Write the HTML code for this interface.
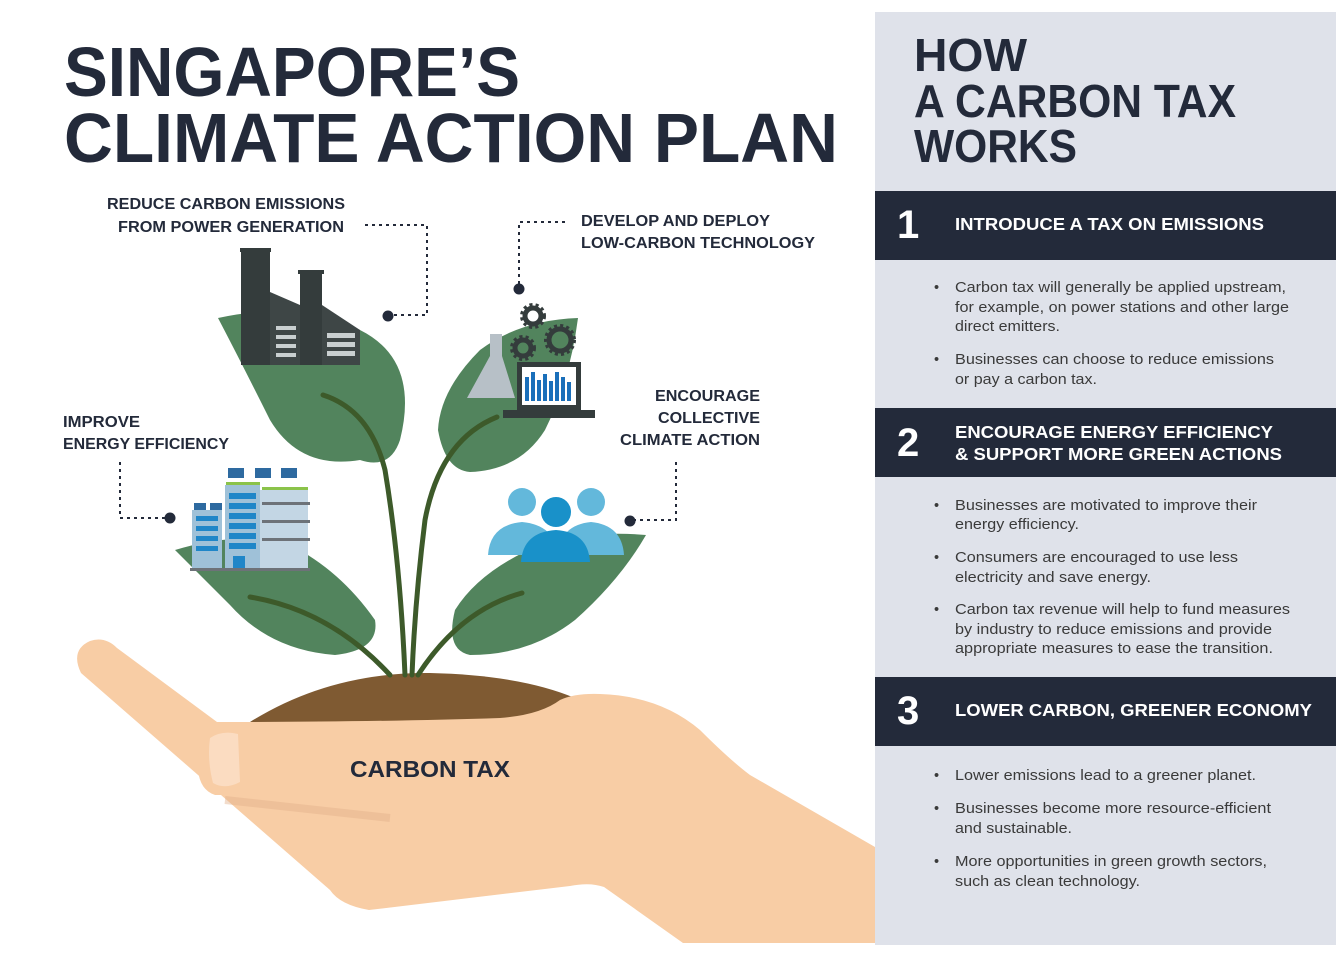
<!DOCTYPE html>
<html><head><meta charset="utf-8"><style>
html,body{margin:0;padding:0;background:#fff;}
svg{display:block;font-family:"Liberation Sans",sans-serif;}
</style></head><body>
<svg width="1336" height="960" viewBox="0 0 1336 960" xmlns="http://www.w3.org/2000/svg">
<rect width="1336" height="960" fill="#fff"/>
<!-- title -->
<g fill="#232a3a" font-weight="bold">
<text x="64" y="96" font-size="70" textLength="456" lengthAdjust="spacingAndGlyphs">SINGAPORE’S</text>
<text x="64" y="162" font-size="70" textLength="774" lengthAdjust="spacingAndGlyphs">CLIMATE ACTION PLAN</text>
</g>
<!-- labels -->
<g fill="#232a3a" font-weight="bold" font-size="15.5">
<text x="107" y="209" textLength="238" lengthAdjust="spacingAndGlyphs">REDUCE CARBON EMISSIONS</text>
<text x="118" y="232" textLength="226" lengthAdjust="spacingAndGlyphs">FROM POWER GENERATION</text>
<text x="581" y="226" textLength="189" lengthAdjust="spacingAndGlyphs">DEVELOP AND DEPLOY</text>
<text x="581" y="248" textLength="234" lengthAdjust="spacingAndGlyphs">LOW-CARBON TECHNOLOGY</text>
<text x="63" y="427" textLength="77" lengthAdjust="spacingAndGlyphs">IMPROVE</text>
<text x="63" y="449" textLength="166" lengthAdjust="spacingAndGlyphs">ENERGY EFFICIENCY</text>
<text x="655" y="401" textLength="105" lengthAdjust="spacingAndGlyphs">ENCOURAGE</text>
<text x="658" y="423" textLength="102" lengthAdjust="spacingAndGlyphs">COLLECTIVE</text>
<text x="620" y="445" textLength="140" lengthAdjust="spacingAndGlyphs">CLIMATE ACTION</text>
</g>
<!-- dotted connectors -->
<g stroke="#232a3a" stroke-width="2" stroke-dasharray="3,4" fill="none">
<path d="M365 225 H427 V315 H392"/>
<path d="M565 222 H519 V286"/>
<path d="M120 462 V518 H166"/>
<path d="M676 462 V520 H634"/>
</g>
<g fill="#232a3a">
<circle cx="388" cy="316" r="5.5"/><circle cx="519" cy="289" r="5.5"/>
<circle cx="170" cy="518" r="5.5"/><circle cx="630" cy="521" r="5.5"/>
</g>
<!-- hand -->
<path d="M250 722 Q330 672 430 673 Q520 675 575 698 L560 730 L250 730 Z" fill="#7f5a32"/>
<path d="M81 673 Q70 650 90 641 Q105 636 117 648 L217 722 Q380 722 500 718 Q540 715 560 700 Q575 693 600 694 Q660 696 700 730 Q730 760 750 775 L875 847 L875 943 L683 943 L604 887 Q590 882 570 886 L369 910 Q340 905 330 890 Z" fill="#f8cda5"/>
<path d="M200 735 Q205 722 230 722 L240 722 L240 795 L215 795 Q200 790 198 770 Z" fill="#f8cda5"/>
<path d="M210 738 Q222 730 238 734 L240 782 Q225 790 213 783 Q207 760 210 738 Z" fill="#fbdcc1"/>
<path d="M225 800 Q300 808 390 818" stroke="#e2b28c" stroke-width="8" fill="none" opacity="0.45"/>
<text x="350" y="777" font-size="23" font-weight="bold" fill="#232a3a" textLength="160" lengthAdjust="spacingAndGlyphs">CARBON TAX</text>
<!-- leaves -->
<g fill="#52845d">
<path d="M218 318 Q300 300 360 330 Q420 360 400 440 Q390 470 360 460 Q300 470 270 420 Q240 360 218 318 Z"/>
<path d="M578 318 Q520 320 480 350 Q440 390 438 430 Q445 470 470 472 Q520 470 545 430 Q570 380 578 318 Z"/>
<path d="M175 550 Q240 530 290 545 Q340 570 375 620 Q380 650 335 655 Q270 650 230 605 Q200 575 175 550 Z"/>
<path d="M646 535 Q590 530 540 545 Q480 570 455 610 Q445 650 470 655 Q530 655 575 620 Q620 580 646 535 Z"/>
</g>
<g stroke="#3d5a2a" stroke-width="5" fill="none" stroke-linecap="round">
<path d="M323 395 Q370 410 385 470 Q400 560 405 675"/>
<path d="M497 417 Q440 440 425 520 Q415 600 412 675"/>
<path d="M250 597 Q330 610 390 675"/>
<path d="M522 593 Q460 610 418 675"/>
</g>
<!-- factory -->
<g fill="#343c3c">
<rect x="241" y="250" width="29" height="115"/><rect x="240" y="248" width="31" height="4"/>
<rect x="300" y="272" width="22" height="93"/><rect x="298" y="270" width="26" height="4"/>
<path d="M270 292 L300 305 V365 H270 Z" fill="#3e4646"/>
<path d="M322 305 L360 330 V365 H322 Z" fill="#3e4646"/>
</g>
<g fill="#c9cfd0"><rect x="276" y="326" width="20" height="4"/><rect x="276" y="335" width="20" height="4"/><rect x="276" y="344" width="20" height="4"/><rect x="276" y="353" width="20" height="4"/>
<rect x="327" y="333" width="28" height="5"/><rect x="327" y="342" width="28" height="5"/><rect x="327" y="351" width="28" height="5"/></g>
<!-- tech -->
<path d="M490 334 H502 V356 L515 398 H467 L490 356 Z" fill="#b7c0c7"/>
<g fill="none" stroke="#343c3c">
<circle cx="533" cy="316" r="8" stroke-width="5"/><circle cx="533" cy="316" r="11" stroke-width="4" stroke-dasharray="3,3"/>
<circle cx="523" cy="348" r="8" stroke-width="5"/><circle cx="523" cy="348" r="11" stroke-width="4" stroke-dasharray="3,3"/>
<circle cx="560" cy="340" r="11" stroke-width="5"/><circle cx="560" cy="340" r="14" stroke-width="4" stroke-dasharray="3,3"/>
</g>
<rect x="517" y="362" width="64" height="50" fill="#343c3c"/><rect x="522" y="367" width="54" height="38" fill="#fff"/>
<g fill="#1a6fba"><rect x="525" y="377" width="4" height="24"/><rect x="531" y="372" width="4" height="29"/><rect x="537" y="380" width="4" height="21"/><rect x="543" y="374" width="4" height="27"/><rect x="549" y="381" width="4" height="20"/><rect x="555" y="372" width="4" height="29"/><rect x="561" y="377" width="4" height="24"/><rect x="567" y="382" width="4" height="19"/></g>
<rect x="503" y="410" width="92" height="8" fill="#343c3c"/>
<!-- building -->
<g fill="#9fc1d8"><rect x="192" y="510" width="30" height="60"/><rect x="225" y="485" width="35" height="85"/><rect x="260" y="490" width="48" height="80" fill="#c3d6e4"/></g>
<g fill="#1f86c8"><rect x="196" y="516" width="22" height="5"/><rect x="196" y="526" width="22" height="5"/><rect x="196" y="536" width="22" height="5"/><rect x="196" y="546" width="22" height="5"/>
<rect x="229" y="493" width="27" height="6"/><rect x="229" y="503" width="27" height="6"/><rect x="229" y="513" width="27" height="6"/><rect x="229" y="523" width="27" height="6"/><rect x="229" y="533" width="27" height="6"/><rect x="229" y="543" width="27" height="6"/><rect x="233" y="556" width="12" height="14"/></g>
<g fill="#2e6aa0"><rect x="228" y="468" width="16" height="10"/><rect x="255" y="468" width="16" height="10"/><rect x="281" y="468" width="16" height="10"/><rect x="194" y="503" width="12" height="7"/><rect x="210" y="503" width="12" height="7"/></g>
<g fill="#8bc34a"><rect x="226" y="482" width="34" height="3"/><rect x="262" y="487" width="46" height="3"/></g>
<g fill="#6d7278"><rect x="262" y="502" width="48" height="3"/><rect x="262" y="520" width="48" height="3"/><rect x="262" y="538" width="48" height="3"/><rect x="190" y="568" width="120" height="3"/></g>
<!-- people -->
<g fill="#63b8db">
<circle cx="522" cy="502" r="14"/><path d="M488 555 Q490 525 522 522 Q555 525 558 555 Z"/>
<circle cx="591" cy="502" r="14"/><path d="M558 555 Q560 525 591 522 Q622 525 624 555 Z"/>
</g>
<g fill="#1991c9"><circle cx="556" cy="512" r="15"/><path d="M521 562 Q523 532 556 530 Q588 532 590 562 Z"/></g>
<!-- right panel -->
<rect x="875" y="12" width="461" height="933" fill="#dfe2ea"/>
<g fill="#232a3a" font-weight="bold" font-size="46">
<text x="914" y="71" textLength="113" lengthAdjust="spacingAndGlyphs">HOW</text>
<text x="914" y="117" textLength="322" lengthAdjust="spacingAndGlyphs">A CARBON TAX</text>
<text x="914" y="162" textLength="163" lengthAdjust="spacingAndGlyphs">WORKS</text>
</g>
<g fill="#232a3a"><rect x="875" y="191" width="461" height="69"/><rect x="875" y="408" width="461" height="69"/><rect x="875" y="677" width="461" height="69"/></g>
<g fill="#fff" font-weight="bold">
<text x="897" y="238" font-size="40">1</text>
<text x="897" y="456" font-size="40">2</text>
<text x="897" y="724" font-size="40">3</text>
<g font-size="17.5">
<text x="955" y="230" textLength="309" lengthAdjust="spacingAndGlyphs">INTRODUCE A TAX ON EMISSIONS</text>
<text x="955" y="438" textLength="318" lengthAdjust="spacingAndGlyphs">ENCOURAGE ENERGY EFFICIENCY</text>
<text x="955" y="460" textLength="327" lengthAdjust="spacingAndGlyphs">&amp; SUPPORT MORE GREEN ACTIONS</text>
<text x="955" y="716" textLength="357" lengthAdjust="spacingAndGlyphs">LOWER CARBON, GREENER ECONOMY</text>
</g></g>
<g fill="#3a3a3a" font-size="14.5">
<text x="934" y="292">•</text><text x="955" y="292" textLength="331" lengthAdjust="spacingAndGlyphs">Carbon tax will generally be applied upstream,</text>
<text x="955" y="312" textLength="334" lengthAdjust="spacingAndGlyphs">for example, on power stations and other large</text>
<text x="955" y="331" textLength="105" lengthAdjust="spacingAndGlyphs">direct emitters.</text>
<text x="934" y="364">•</text><text x="955" y="364" textLength="319" lengthAdjust="spacingAndGlyphs">Businesses can choose to reduce emissions</text>
<text x="955" y="384" textLength="142" lengthAdjust="spacingAndGlyphs">or pay a carbon tax.</text>
<text x="934" y="510">•</text><text x="955" y="510" textLength="302" lengthAdjust="spacingAndGlyphs">Businesses are motivated to improve their</text>
<text x="955" y="529" textLength="124" lengthAdjust="spacingAndGlyphs">energy efficiency.</text>
<text x="934" y="562">•</text><text x="955" y="562" textLength="283" lengthAdjust="spacingAndGlyphs">Consumers are encouraged to use less</text>
<text x="955" y="582" textLength="196" lengthAdjust="spacingAndGlyphs">electricity and save energy.</text>
<text x="934" y="614">•</text><text x="955" y="614" textLength="335" lengthAdjust="spacingAndGlyphs">Carbon tax revenue will help to fund measures</text>
<text x="955" y="634" textLength="317" lengthAdjust="spacingAndGlyphs">by industry to reduce emissions and provide</text>
<text x="955" y="653" textLength="318" lengthAdjust="spacingAndGlyphs">appropriate measures to ease the transition.</text>
<text x="934" y="780">•</text><text x="955" y="780" textLength="301" lengthAdjust="spacingAndGlyphs">Lower emissions lead to a greener planet.</text>
<text x="934" y="813">•</text><text x="955" y="813" textLength="316" lengthAdjust="spacingAndGlyphs">Businesses become more resource-efficient</text>
<text x="955" y="833" textLength="117" lengthAdjust="spacingAndGlyphs">and sustainable.</text>
<text x="934" y="866">•</text><text x="955" y="866" textLength="312" lengthAdjust="spacingAndGlyphs">More opportunities in green growth sectors,</text>
<text x="955" y="886" textLength="185" lengthAdjust="spacingAndGlyphs">such as clean technology.</text>
</g>
</svg>
</body></html>
